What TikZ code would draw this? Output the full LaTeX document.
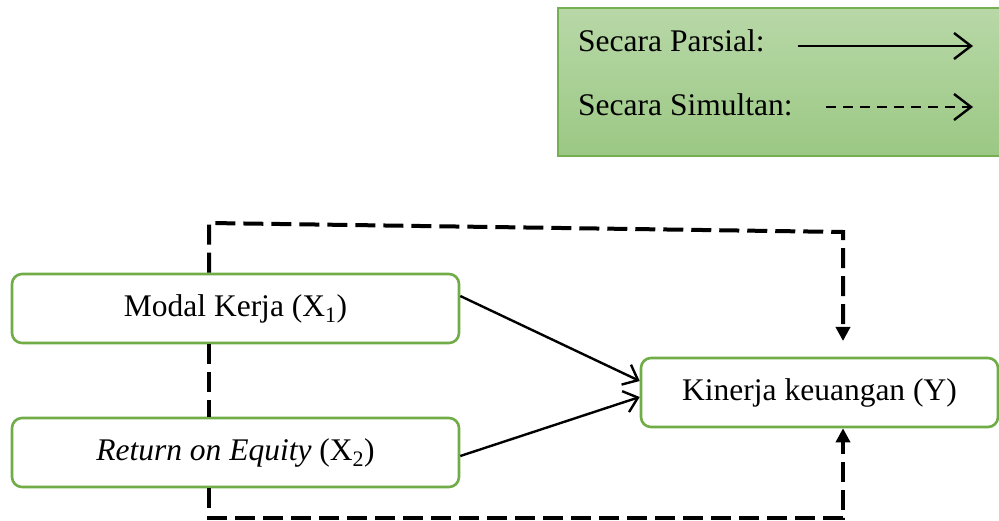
\documentclass[tikz,border=0pt]{standalone}
\usepackage{fontspec}
\setmainfont{Liberation Serif}
\usetikzlibrary{arrows.meta}
\definecolor{boxgreen}{RGB}{112,173,71}
\definecolor{legtop}{RGB}{184,216,167}
\definecolor{legbot}{RGB}{155,200,132}
\definecolor{legborder}{RGB}{118,175,82}
\begin{document}
\begin{tikzpicture}[x=1pt,y=-1pt,
  txt/.style={font=\fontsize{31.5}{36}\selectfont, inner sep=0pt},
  varbox/.style={txt, draw=boxgreen, line width=2.6pt, rounded corners=10pt, fill=white, minimum height=69pt},
  partial/.style={line width=2.4pt, -{Straight Barb[length=13pt,width=22pt]}},
  legpartial/.style={line width=2.4pt, -{Straight Barb[length=17pt,width=26pt]}},
  legsimul/.style={line width=2.4pt, dash pattern=on 10pt off 7pt, -{Straight Barb[length=17pt,width=26pt]}},
  simul/.style={line width=4pt, dash pattern=on 20pt off 8pt},
  simularrow/.style={simul, -{Triangle[length=14pt,width=14pt]}},
]
\useasboundingbox (0,0) rectangle (999,521);
% legend
\node[draw=legborder, line width=2pt, top color=legtop, bottom color=legbot,
      minimum width=447pt, minimum height=148pt, inner sep=0pt] (legend) at (781.5,82) {};
\node[txt, anchor=base west] (lp) at (578,52) {Secara Parsial:};
\node[txt, anchor=base west] (ls) at (578,116) {Secara Simultan:};
\coordinate (lpa) at (798,46);
\coordinate (lpb) at (973,46);
\coordinate (lsa) at (826,107);
\coordinate (lsb) at (973,107);
\draw[legpartial] (lpa) -- (lpb);
\draw[legsimul] (lsa) -- (lsb);
% boxes
\node[varbox, minimum width=447pt] (b1) at (235.5,308.5) {Modal Kerja (X\textsubscript{1})};
\node[varbox, minimum width=447pt] (b2) at (235.5,452.5) {\textit{Return on Equity} (X\textsubscript{2})};
\node[varbox, minimum width=357pt] (y) at (819.5,392.5) {Kinerja keuangan (Y)};
% partial arrows
\draw[partial] ([yshift=12.5pt]b1.east) -- ([yshift=11.5pt]y.west);
\draw[partial] ([yshift=-3.5pt]b2.east) -- ([yshift=-4.5pt]y.west);
% simultaneous
\coordinate (t1) at (209,223);
\coordinate (t2) at (843,232);
\coordinate (t3) at (843,341);
\coordinate (u1) at (209,518);
\coordinate (u2) at (843,518);
\draw[simularrow] (t1 |- b1.north) -- (t1) -- (t2) -- (t3);
\draw[simul] (t1 |- b1.south) -- (t1 |- b2.north);
\draw[simularrow] (t1 |- b2.south) -- (u1) -- (u2) -- (u2 |- y.south);
\end{tikzpicture}
\end{document}
